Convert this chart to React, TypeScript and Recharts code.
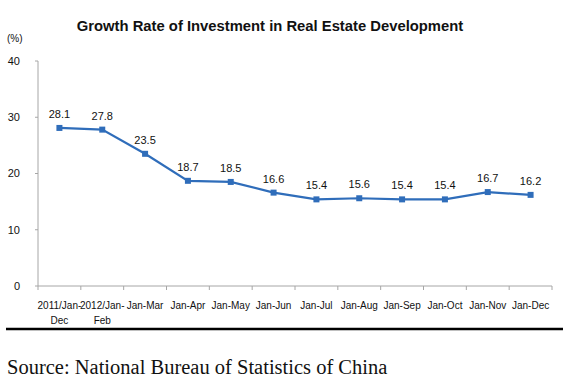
import React from "react";
import { LineChart, Line, XAxis, YAxis, LabelList } from "recharts";

const periods = [
  "2011/Jan-\nDec",
  "2012/Jan-\nFeb",
  "Jan-Mar",
  "Jan-Apr",
  "Jan-May",
  "Jan-Jun",
  "Jan-Jul",
  "Jan-Aug",
  "Jan-Sep",
  "Jan-Oct",
  "Jan-Nov",
  "Jan-Dec",
];
const growthRate = [28.1, 27.8, 23.5, 18.7, 18.5, 16.6, 15.4, 15.6, 15.4, 15.4, 16.7, 16.2];
const yTicks = [0, 10, 20, 30, 40];

const data = periods.map((p, i) => ({ period: p, rate: growthRate[i] }));

const W = 574;
const H = 386;
const margin = { top: 61, right: 22, bottom: 70, left: 0 };
const yAxisWidth = 38;
const plotWidth = W - margin.left - margin.right - yAxisWidth;
const band = plotWidth / periods.length;

const FONT = "'Liberation Sans', Arial, sans-serif";
const AXIS = "#a6a6a6";
const BLUE = "#2f6dba";

function PeriodTick({ x, y, payload, index }: any) {
  const lines = String(payload.value).split("\n");
  const last = index === periods.length - 1;
  return (
    <g>
      <line x1={x - band / 2} x2={x - band / 2} y1={y} y2={y + 4} stroke={AXIS} />
      {last && <line x1={x + band / 2} x2={x + band / 2} y1={y} y2={y + 4} stroke={AXIS} />}
      <text textAnchor="middle" fontSize={10} fontFamily={FONT} fill="#111">
        {lines.map((l, i) => (
          <tspan key={i} x={x} y={y + 23 + i * 15}>
            {l}
          </tspan>
        ))}
      </text>
    </g>
  );
}

function SquareDot({ cx, cy, index }: any) {
  return <rect key={index} x={cx - 3} y={cy - 3} width={6} height={6} fill={BLUE} />;
}

export default function App() {
  return (
    <div style={{ position: "fixed", left: 0, top: 0, width: W, height: H, background: "#fff" }}>
      <LineChart width={W} height={H} data={data} margin={margin}>
        <XAxis
          dataKey="period"
          interval={0}
          stroke={AXIS}
          tickLine={false}
          tickSize={0}
          tickMargin={0}
          padding={{ left: band / 2, right: band / 2 }}
          tick={<PeriodTick />}
        />
        <YAxis
          domain={[0, 40]}
          ticks={yTicks}
          width={yAxisWidth}
          stroke={AXIS}
          tickSize={3}
          tickMargin={15}
          tick={{ fontSize: 11, fontFamily: FONT, fill: "#111" }}
        />
        <Line
          dataKey="rate"
          stroke={BLUE}
          strokeWidth={2.2}
          dot={<SquareDot />}
          activeDot={false}
          isAnimationActive={false}
        >
          <LabelList
            dataKey="rate"
            position="top"
            offset={10}
            fontSize={11}
            fontFamily={FONT}
            fill="#111"
          />
        </Line>
      </LineChart>
      <svg
        width={W}
        height={H}
        style={{ position: "absolute", left: 0, top: 0, pointerEvents: "none" }}
      >
        <text x={270} y={31} textAnchor="middle" fontSize={14.8} fontWeight="bold" fontFamily={FONT} fill="#111">
          Growth Rate of Investment in Real Estate Development
        </text>
        <text x={7} y={42} fontSize={10} fontFamily={FONT} fill="#111">
          (%)
        </text>
        <line x1={6} x2={563} y1={329} y2={329} stroke="#000" strokeWidth={2.5} />
        <text x={7} y={374} fontSize={20.5} fontFamily="'Liberation Serif', 'Times New Roman', serif" fill="#111">
          Source: National Bureau of Statistics of China
        </text>
      </svg>
    </div>
  );
}
